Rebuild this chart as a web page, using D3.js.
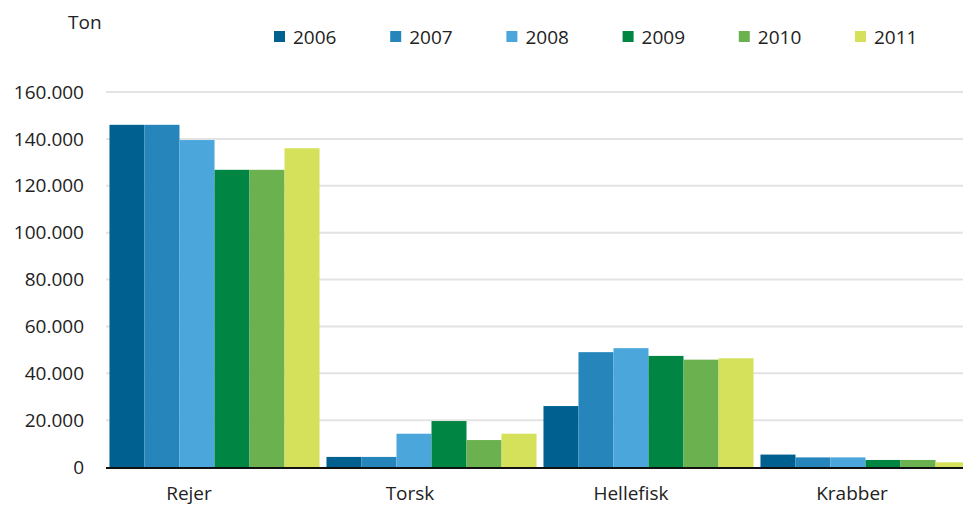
<!DOCTYPE html>
<html>
<head>
<meta charset="utf-8">
<script src="https://cdn.jsdelivr.net/npm/d3@7"></script>
<style>
  html, body { margin: 0; padding: 0; background: #fff; }
  svg { display: block; font-family: "Open Sans", sans-serif; }
</style>
</head>
<body>
<svg id="chart" width="963" height="506"></svg>
<script>
const categories = ["Rejer", "Torsk", "Hellefisk", "Krabber"];
const years = ["2006", "2007", "2008", "2009", "2010", "2011"];
const v2006 = [146000, 4300, 26000, 5300];
const v2007 = [146000, 4300, 49000, 4100];
const v2008 = [139500, 14200, 50700, 4100];
const v2009 = [126800, 19600, 47400, 3000];
const v2010 = [126800, 11500, 45800, 3000];
const v2011 = [136000, 14200, 46400, 2000];
const seriesValues = [v2006, v2007, v2008, v2009, v2010, v2011];
const colors = ["#00608f", "#2686bb", "#4ba6dc", "#008542", "#6bb14f", "#d5e15b"];
const yTicks = [0, 20000, 40000, 60000, 80000, 100000, 120000, 140000, 160000];
const yLabel = "Ton";

const svg = d3.select("#chart");
const textColor = "#222";

const x0 = d3.scaleBand().domain(categories).range([106, 974]).paddingInner(0.032).paddingOuter(0.016);
const x1 = d3.scaleBand().domain(years).range([0, x0.bandwidth()]).padding(0);
const y = d3.scaleLinear().domain([0, 160000]).range([467, 92]);
const labelX = d3.scalePoint().domain(categories).range([189, 852]);
const legendX = d3.scalePoint().domain(years).range([274, 855]);

const fmt = v => d3.format(",")(v).replace(/,/g, ".");

// gridlines
svg.append("g").selectAll("line").data(yTicks.filter(t => t > 0)).join("line")
  .attr("x1", 106).attr("x2", 963)
  .attr("y1", d => y(d)).attr("y2", d => y(d))
  .attr("stroke", "#e3e3e3").attr("stroke-width", 2);

// y labels
svg.append("g").selectAll("text").data(yTicks).join("text")
  .attr("x", 84).attr("y", d => y(d)).attr("dy", "0.35em")
  .attr("text-anchor", "end").attr("font-size", 19).attr("fill", textColor)
  .text(d => fmt(d));

// bars
const data = [];
categories.forEach((c, i) => years.forEach((yr, j) => data.push({ c, yr, j, v: seriesValues[j][i] })));
svg.append("g").selectAll("rect").data(data).join("rect")
  .attr("x", d => x0(d.c) + x1(d.yr))
  .attr("width", x1.bandwidth())
  .attr("y", d => y(d.v))
  .attr("height", d => y(0) - y(d.v))
  .attr("fill", d => colors[d.j]);

// x axis line
svg.append("line").attr("x1", 106).attr("x2", 963).attr("y1", 468).attr("y2", 468)
  .attr("stroke", "#111").attr("stroke-width", 2);

// category labels
svg.append("g").selectAll("text").data(categories).join("text")
  .attr("x", d => labelX(d)).attr("y", 500)
  .attr("text-anchor", "middle").attr("font-size", 19).attr("fill", textColor)
  .text(d => d);

// y label
svg.append("text").attr("x", 68).attr("y", 29).attr("font-size", 19).attr("fill", textColor).text(yLabel);

// legend
const lg = svg.append("g").selectAll("g").data(years).join("g")
  .attr("transform", d => `translate(${legendX(d)},31)`);
lg.append("rect").attr("width", 11).attr("height", 11).attr("fill", (d, i) => colors[i]);
lg.append("text").attr("x", 19).attr("y", 12.5).attr("font-size", 19).attr("fill", textColor).text(d => d);
</script>
</body>
</html>
